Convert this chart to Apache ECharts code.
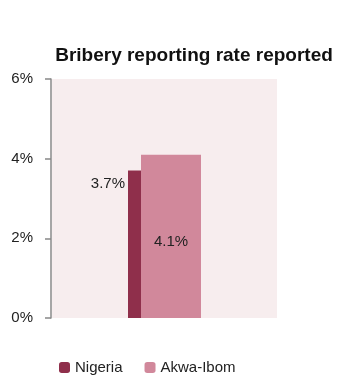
<!DOCTYPE html>
<html><head><meta charset="utf-8">
<script src="https://cdn.jsdelivr.net/npm/echarts@6/dist/echarts.min.js"></script>
<style>html,body{margin:0;padding:0;background:#fff}#c{width:341px;height:383px}</style>
</head><body><div id="c"></div>
<script>
const categories = [''];
const seriesNames = ['Nigeria', 'Akwa-Ibom'];
const nigeria = [3.7];
const akwaIbom = [4.1];
const yTicks = [0, 2, 4, 6];

const chart = echarts.init(document.getElementById('c'));
const font = 'Liberation Sans, Open Sans, sans-serif';
chart.setOption({
  animation: false,
  title: {
    text: 'Bribery reporting rate reported',
    left: 189, top: 41, textAlign: 'center',
    textStyle: {fontFamily: font, fontSize: 19, fontWeight: 'bold', color: '#111'}
  },
  legend: {
    data: seriesNames, left: 59, top: 360, padding: 0, itemWidth: 11, itemHeight: 11, itemGap: 22,
    textStyle: {fontFamily: font, fontSize: 15, color: '#222', padding: [0,0,0,0]}
  },
  grid: {left: 52, right: 64, top: 79, bottom: 65, show: true, backgroundColor: '#F7EDEE', borderWidth: 0},
  xAxis: {type: 'category', data: categories, axisLine: {show: false}, axisTick: {show: false}, axisLabel: {show: false}},
  yAxis: {
    type: 'value', min: yTicks[0], max: yTicks[yTicks.length-1], interval: 2, offset: 1,
    splitLine: {show: false},
    axisLine: {show: true, lineStyle: {color: '#888', width: 1.5}},
    axisTick: {show: true, length: 6, lineStyle: {color: '#888', width: 1.5}},
    axisLabel: {formatter: '{value}%', fontFamily: font, fontSize: 15, color: '#222', margin: 18,
                verticalAlign: 'middle', padding: [8,0,0,0]}
  },
  series: [
    {name: seriesNames[0], type: 'bar', data: nigeria, barWidth: 13, barGap: '0%',
     itemStyle: {color: '#8F2F4B'},
     label: {show: true, position: [-3, 13], align: 'right', verticalAlign: 'middle',
             formatter: p => p.value + '%', fontFamily: font, fontSize: 15, color: '#222'}},
    {name: seriesNames[1], type: 'bar', data: akwaIbom, barWidth: 60, barGap: '0%',
     itemStyle: {color: '#D1889B'},
     label: {show: true, position: ['50%', 87], align: 'center', verticalAlign: 'middle',
             formatter: p => p.value + '%', fontFamily: font, fontSize: 15, color: '#222'}}
  ]
});
</script></body></html>
